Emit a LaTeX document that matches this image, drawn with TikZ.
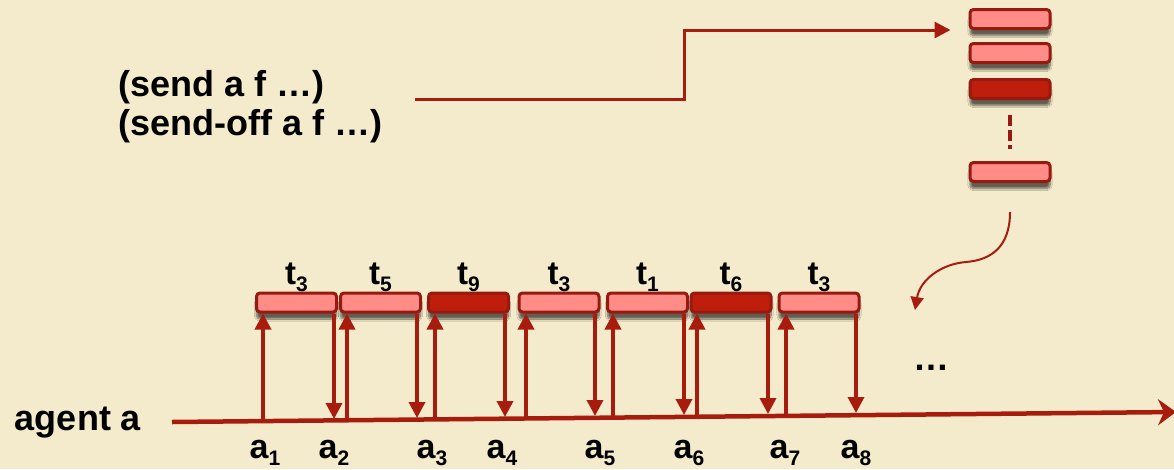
\documentclass[tikz,border=0pt]{standalone}
\usepackage{fontspec}
\setmainfont{Liberation Sans}
\usetikzlibrary{arrows.meta,shadows.blur,positioning}

\definecolor{paper}{RGB}{243,235,203}
\definecolor{slotline}{RGB}{150,26,16}
\definecolor{slotpink}{RGB}{255,140,135}
\definecolor{darkfill}{RGB}{192,30,12}
\definecolor{arrowred}{RGB}{168,28,14}

% index set low and small, as on the slides
\newcommand\lowidx[1]{\raisebox{-7pt}{\fontsize{21}{21}\selectfont #1}}

\tikzset{
  slot/.style={draw=slotline, line width=3pt, rounded corners=3.5pt, fill=slotpink,
    minimum width=80pt, minimum height=19pt, inner sep=0pt,
    blur shadow={shadow xshift=0pt, shadow yshift=-7pt, shadow blur steps=10, shadow opacity=60},
    label distance=9pt},
  slotdark/.style={slot, fill=darkfill},
  msg/.style={draw=arrowred, line width=3.5pt, -{Triangle[length=16pt,width=16pt]}},
  axis/.style={draw=arrowred, line width=4.5pt, -{Stealth[length=18pt,width=26pt,inset=6pt]}},
  cmd/.style={font=\fontsize{36}{40}\selectfont\bfseries, inner sep=0pt},
  tlbl/.style={font=\fontsize{33}{36}\selectfont\bfseries, inner sep=0pt},
  albl/.style={font=\fontsize{34}{36}\selectfont\bfseries, inner sep=0pt, anchor=base}
}

\begin{document}
\begin{tikzpicture}[x=1pt,y=-1pt]
\useasboundingbox (0,0) rectangle (1174,469);
\fill[paper] (0,0) rectangle (1174,469);

% mailbox of agent a
\node[slot] (q1) at (1010,19) {};
\node[slot] (q2) at (1010,53) {};
\node[slotdark] (q3) at (1010,89) {};
\node[slot] (q4) at (1010,172) {};
\draw[slotline, line width=4pt, dash pattern=on 11pt off 4pt] ([yshift=-15pt]q3.south) -- ([yshift=12pt]q4.north);

% the two ways to post an action
\node[cmd, anchor=base west] (send) at (118,96) {(send a f …)};
\node[cmd, anchor=base west] (sendoff) at (118,135) {(send-off a f …)};
\coordinate (src) at (415,99);
\draw[msg, line width=3pt] (src) -- ++(269,0) |- ([xshift=-18pt]q1.south west);

% time line of the agent
\coordinate (t0) at (172,422);
\coordinate (tend) at (1176,412);
\path[axis] (t0) -- (tend);
\node[cmd, anchor=base] (agent) at (78,430) {agent a};

% actions run one after the other
\node[slot, label={[tlbl]above:t\lowidx{3}}] (s1) at (296.5,302.5) {};
\node[slot, label={[tlbl]above:t\lowidx{5}}] (s2) at (380.5,302.5) {};
\node[slotdark, label={[tlbl]above:t\lowidx{9}}] (s3) at (468.5,302.5) {};
\node[slot, label={[tlbl]above:t\lowidx{3}}] (s4) at (559,302.5) {};
\node[slot, label={[tlbl]above:t\lowidx{1}}] (s5) at (647.5,302.5) {};
\node[slotdark, label={[tlbl]above:t\lowidx{6}}] (s6) at (731,302.5) {};
\node[slot, label={[tlbl]above:t\lowidx{3}}] (s7) at (819,302.5) {};

\coordinate (u1) at (263,421);   \coordinate (d1) at (334,419);
\coordinate (u2) at (347,420);   \coordinate (d2) at (417,418);
\coordinate (u3) at (435,419);   \coordinate (d3) at (505,417);
\coordinate (u4) at (526,418);   \coordinate (d4) at (595,416);
\coordinate (u5) at (613,418);   \coordinate (d5) at (684,415);
\coordinate (u6) at (697,417);   \coordinate (d6) at (768,414);
\coordinate (u7) at (786,416);   \coordinate (d7) at (856,413);

\path[msg] (u1) -- (u1 |- s1.south);   \path[msg] (d1 |- s1.south) -- (d1);
\path[msg] (u2) -- (u2 |- s2.south);   \path[msg] (d2 |- s2.south) -- (d2);
\path[msg] (u3) -- (u3 |- s3.south);   \path[msg] (d3 |- s3.south) -- (d3);
\path[msg] (u4) -- (u4 |- s4.south);   \path[msg] (d4 |- s4.south) -- (d4);
\path[msg] (u5) -- (u5 |- s5.south);   \path[msg] (d5 |- s5.south) -- (d5);
\path[msg] (u6) -- (u6 |- s6.south);   \path[msg] (d6 |- s6.south) -- (d6);
\path[msg] (u7) -- (u7 |- s7.south);   \path[msg] (d7 |- s7.south) -- (d7);

\node[albl] (a1) at (265,458) {a\lowidx{1}};
\node[albl] (a2) at (334,458) {a\lowidx{2}};
\node[albl] (a3) at (432,458) {a\lowidx{3}};
\node[albl] (a4) at (502,458) {a\lowidx{4}};
\node[albl] (a5) at (600,458) {a\lowidx{5}};
\node[albl] (a6) at (689,458) {a\lowidx{6}};
\node[albl] (a7) at (785,458) {a\lowidx{7}};
\node[albl] (a8) at (856,458) {a\lowidx{8}};

% more to come from the mailbox
\node[cmd, anchor=base] (more) at (931,370) {…};
\coordinate (next) at (915,310);
\path[msg, line width=2pt, -{Triangle[length=13pt,width=13pt]}] ([yshift=-29pt]q4.south)
  .. controls +(0,35) and +(25,-2) .. (966,262)
  .. controls +(-25,2) and +(5,-30) .. (next);
\end{tikzpicture}
\end{document}
